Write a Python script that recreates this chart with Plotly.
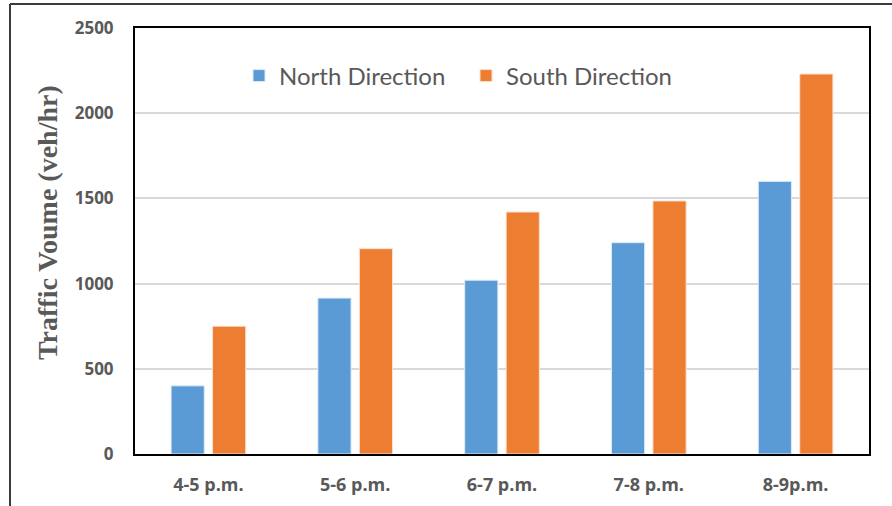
import plotly.graph_objects as go

# Hourly traffic volume by direction
periods = ["4-5 p.m.", "5-6 p.m.", "6-7 p.m.", "7-8 p.m.", "8-9p.m."]
north = [400, 915, 1020, 1240, 1600]
south = [750, 1205, 1420, 1485, 2230]
y_ticks = [0, 500, 1000, 1500, 2000, 2500]

BLUE = "#5B9BD5"
ORANGE = "#ED7D31"
GRAY_TEXT = "#595959"

fig = go.Figure()
fig.add_trace(go.Bar(x=periods, y=north, name="North Direction",
                     marker=dict(color=BLUE, line=dict(color="#DDEBF7", width=1))))
fig.add_trace(go.Bar(x=periods, y=south, name="South Direction",
                     marker=dict(color=ORANGE, line=dict(color="#FBE0D0", width=1))))

W, H = 892, 506
ml, mr, mt, mb = 135, 23, 28, 52
pw, ph = W - ml - mr, H - mt - mb

def px_x(x):
    return (x - ml) / pw

def px_y(y):
    return 1 - (y - mt) / ph

fig.update_layout(
    width=W, height=H,
    margin=dict(l=ml, r=mr, t=mt, b=mb, autoexpand=False),
    paper_bgcolor="white", plot_bgcolor="white",
    barmode="group", bargap=0.435, bargroupgap=0.2,
    showlegend=True,
    legend=dict(orientation="h", x=px_x(239), y=px_y(76), yanchor="middle", xanchor="left",
                font=dict(family="Lato", size=24, color=GRAY_TEXT),
                entrywidth=182, entrywidthmode="pixels",
                bgcolor="rgba(0,0,0,0)", traceorder="normal"),
    xaxis=dict(showline=True, mirror=True, linecolor="black", linewidth=2,
               ticks="", ticklabelstandoff=13,
               tickfont=dict(family="Open Sans", size=18, color=GRAY_TEXT, weight="bold")),
    yaxis=dict(range=[0, 2500], tickvals=y_ticks, showline=True, mirror=True,
               linecolor="black", linewidth=2, ticks="",
               showgrid=True, gridcolor="#D9D9D9", gridwidth=2,
               zeroline=False, ticklabelstandoff=16,
               tickfont=dict(family="Open Sans", size=17, color=GRAY_TEXT, weight="bold")),
    annotations=[
        dict(text="Traffic Voume (veh/hr)", textangle=-90, showarrow=False,
             xref="paper", yref="paper", x=px_x(47), y=px_y(223),
             xanchor="center", yanchor="middle",
             font=dict(family="Liberation Serif", size=28, color=GRAY_TEXT, weight="bold")),
    ],
    shapes=[
        dict(type="line", xref="paper", yref="paper",
             x0=px_x(10), x1=px_x(10), y0=px_y(4), y1=px_y(520),
             line=dict(color="#3A3A3A", width=2)),
        dict(type="line", xref="paper", yref="paper",
             x0=px_x(10), x1=px_x(900), y0=px_y(4), y1=px_y(4),
             line=dict(color="#3A3A3A", width=2)),
    ],
)

fig.write_html("out.html")
